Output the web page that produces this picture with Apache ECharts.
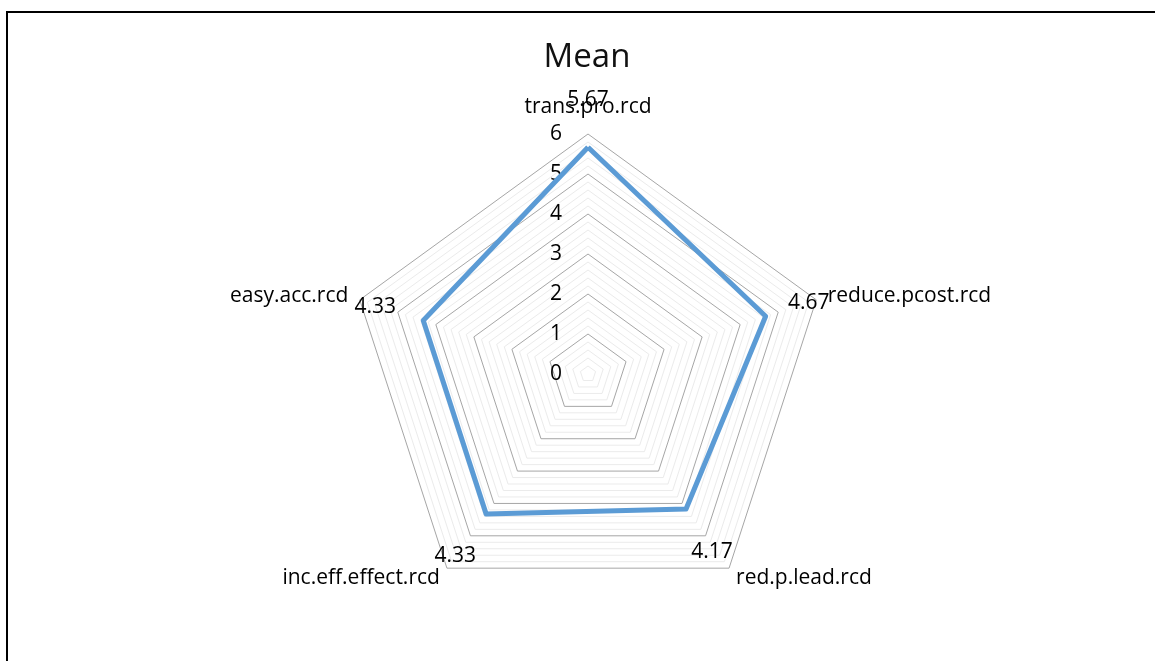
<!DOCTYPE html>
<html>
<head>
<meta charset="utf-8">
<title>Mean</title>
<script src="https://cdn.jsdelivr.net/npm/echarts@6/dist/echarts.min.js"></script>
<style>
  html, body { margin: 0; padding: 0; background: #fff; }
  #wrap { position: relative; width: 1155px; height: 661px; overflow: hidden; }
  #chart { position: absolute; left: 0; top: 0; width: 1155px; height: 661px; }
  #frame {
    position: absolute; left: 6px; top: 11px; width: 1200px; height: 700px;
    border-left: 2px solid #000; border-top: 2px solid #000; pointer-events: none;
  }
</style>
</head>
<body>
<div id="wrap">
  <div id="chart"></div>
  <div id="frame"></div>
</div>
<script>
// Categories in clockwise order starting from the top spoke
const categories = ['trans.pro.rcd', 'reduce.pcost.rcd', 'red.p.lead.rcd', 'inc.eff.effect.rcd', 'easy.acc.rcd'];
// Mean score for each category
const meanValues = [5.67, 4.67, 4.17, 4.33, 4.33];
// Value scale
const scaleMin = 0;
const scaleMax = 6;
const majorStep = 1;
const minorPerMajor = 5;

const FONT = '"Open Sans", "Liberation Sans", sans-serif';
const BLUE = '#5b9bd5';
const TEXT_SIZE = 21;

// Shift of each value label away from its vertex, as rich-text padding [top, right, bottom, left]
const valueLabelPadding = {
  'trans.pro.rcd':      [0, 0, 94, 0],
  'reduce.pcost.rcd':   [0, 0, 26, 86],
  'red.p.lead.rcd':     [86, 0, 0, 52],
  'inc.eff.effect.rcd': [84, 62, 0, 0],
  'easy.acc.rcd':       [0, 96, 26, 0]
};

// ECharts lays radar spokes out counter-clockwise; keep the first, reverse the rest
const order = [0].concat(categories.map((_, i) => i).slice(1).reverse());
const radarCats = order.map(i => categories[i]);
const radarVals = order.map(i => meanValues[i]);

const splitCount = (scaleMax - scaleMin) / majorStep * minorPerMajor;
const ringColors = ['#a6a6a6'].concat(new Array(minorPerMajor - 1).fill('#ebebeb'));

const valueRich = {};
radarCats.forEach((c, i) => {
  valueRich['v' + i] = {
    fontFamily: FONT, fontSize: TEXT_SIZE, color: '#000',
    padding: valueLabelPadding[c]
  };
});

const chart = echarts.init(document.getElementById('chart'), null, { renderer: 'canvas' });
chart.setOption({
  animation: false,
  backgroundColor: '#fff',
  title: {
    text: 'Mean',
    left: 582,
    textAlign: 'center',
    top: 36,
    textStyle: { fontFamily: FONT, fontSize: 33, fontWeight: 'normal', color: '#111' }
  },
  radar: {
    center: [588, 374],
    radius: 240,
    startAngle: 90,
    shape: 'polygon',
    splitNumber: splitCount,
    axisNameGap: 12,
    indicator: radarCats.map(c => ({ name: c, min: scaleMin, max: scaleMax })),
    axisName: {
      color: '#000',
      fontFamily: FONT,
      fontSize: TEXT_SIZE,
      formatter: function (name) {
        return name === categories[0] ? '{top|' + name + '}' : name;
      },
      rich: {
        top: { fontFamily: FONT, fontSize: TEXT_SIZE, color: '#000', padding: [0, 0, 4, 0] }
      }
    },
    axisLine: { show: false },
    axisTick: { show: false },
    axisLabel: { show: false },
    splitArea: { show: false },
    splitLine: { lineStyle: { color: ringColors, width: 1 } }
  },
  polar: { center: [588, 374], radius: 240 },
  angleAxis: { show: false, min: 0, max: 360, startAngle: 90 },
  radiusAxis: {
    type: 'value',
    min: scaleMin,
    max: scaleMax,
    interval: majorStep,
    axisLine: { show: false },
    axisTick: { show: false },
    splitLine: { show: false },
    axisLabel: {
      margin: 26, fontFamily: FONT, fontSize: TEXT_SIZE, color: '#000',
      padding: [6, 0, 0, 0]
    }
  },
  series: [{
    type: 'radar',
    name: 'Mean',
    symbol: 'circle',
    symbolSize: 1,
    itemStyle: { color: BLUE },
    lineStyle: { color: BLUE, width: 5, join: 'round' },
    label: {
      show: true,
      position: 'inside',
      formatter: function (p) {
        return '{v' + p.dimensionIndex + '|' + p.value.toFixed(2) + '}';
      },
      rich: valueRich
    },
    data: [{ value: radarVals, name: 'Mean' }]
  }]
});
</script>
</body>
</html>
